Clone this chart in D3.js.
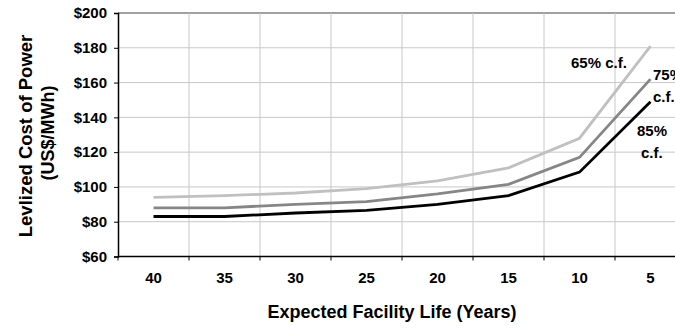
<!DOCTYPE html>
<html lang="en">
<head>
    <meta charset="UTF-8">
    <title>levelized cost vs facility life</title>
    <script src="https://d3js.org/d3.v7.min.js"></script>
    <style>
        body { margin: 0; background: #fff; }
        text { font-family: Arial, "Liberation Sans", sans-serif; font-weight: bold; fill: #000; }
    </style>
</head>
<body>
    <svg width="675" height="328"></svg>
    <script>
        const years = ['40', '35', '30', '25', '20', '15', '10', '5'];
        const cf65 = [94, 95, 96.5, 99, 103.5, 111, 128, 181];
        const cf75 = [88, 88, 90, 91.5, 96, 101.5, 117, 162];
        const cf85 = [83, 83, 85, 86.5, 90, 95, 108.5, 149];
        const yTicks = [60, 80, 100, 120, 140, 160, 180, 200];

        const series = [
            {name: '65%', values: cf65, color: '#c0c0c0'},
            {name: '75%', values: cf75, color: '#868686'},
            {name: '85%', values: cf85, color: '#000000'}
        ];

        const svg = d3.select('svg');
        const plotL = 118, plotR = 686, plotT = 13, plotB = 256.5;

        const x = d3.scaleBand().domain(years).range([plotL, plotR]);
        const y = d3.scaleLinear().domain([60, 200]).range([plotB, plotT]);

        // grid
        svg.append('g').selectAll('line').data(yTicks.slice(1)).join('line')
            .attr('x1', plotL).attr('x2', plotR)
            .attr('y1', d => y(d)).attr('y2', d => y(d))
            .attr('stroke', d => d === 200 ? '#808080' : '#c8c8c8')
            .attr('stroke-width', d => d === 200 ? 1.5 : 1);
        svg.append('g').selectAll('line').data(years.slice(1)).join('line')
            .attr('x1', d => x(d)).attr('x2', d => x(d))
            .attr('y1', plotT).attr('y2', plotB)
            .attr('stroke', '#c8c8c8');

        // y axis
        const yAxis = svg.append('g')
            .attr('transform', `translate(${plotL},0)`)
            .call(d3.axisLeft(y).tickValues(yTicks).tickSize(4).tickPadding(7).tickFormat(d => '$' + d));
        yAxis.select('.domain').attr('stroke', '#000').attr('stroke-width', 1.5);
        yAxis.selectAll('.tick line').attr('stroke', '#000');
        yAxis.selectAll('text').style('font-size', '15px');

        // x axis, ticks between categories
        svg.append('line')
            .attr('x1', plotL).attr('x2', plotR)
            .attr('y1', plotB).attr('y2', plotB)
            .attr('stroke', '#000').attr('stroke-width', 1.5);
        svg.append('g').selectAll('line').data(years).join('line')
            .attr('x1', d => x(d)).attr('x2', d => x(d))
            .attr('y1', plotB).attr('y2', plotB + 4)
            .attr('stroke', '#000');
        svg.append('g').selectAll('text').data(years).join('text')
            .attr('x', d => x(d) + x.bandwidth() / 2)
            .attr('y', 283)
            .attr('text-anchor', 'middle')
            .style('font-size', '15px')
            .text(d => d);

        // lines
        const line = d3.line()
            .x((d, i) => x(years[i]) + x.bandwidth() / 2)
            .y(d => y(d));
        svg.append('g').selectAll('path').data(series).join('path')
            .attr('d', d => line(d.values))
            .attr('fill', 'none')
            .attr('stroke', d => d.color)
            .attr('stroke-width', 2.8);

        // series labels
        const labels = [
            {text: '65% c.f.', x: 571, y: 68},
            {text: '75%', x: 653, y: 80},
            {text: 'c.f.', x: 653, y: 102},
            {text: '85%', x: 637, y: 136},
            {text: 'c.f.', x: 641, y: 158}
        ];
        svg.append('g').selectAll('text').data(labels).join('text')
            .attr('x', d => d.x).attr('y', d => d.y)
            .style('font-size', '15px')
            .text(d => d.text);

        // axis titles
        svg.append('text')
            .attr('x', 392).attr('y', 318)
            .attr('text-anchor', 'middle')
            .style('font-size', '18px')
            .text('Expected Facility Life (Years)');
        svg.append('text')
            .attr('transform', 'translate(32,136) rotate(-90)')
            .attr('text-anchor', 'middle')
            .style('font-size', '18.5px')
            .text('Levlized Cost of Power');
        svg.append('text')
            .attr('transform', 'translate(54,133) rotate(-90)')
            .attr('text-anchor', 'middle')
            .style('font-size', '18px')
            .text('(US$/MWh)');
    </script>
</body>
</html>
